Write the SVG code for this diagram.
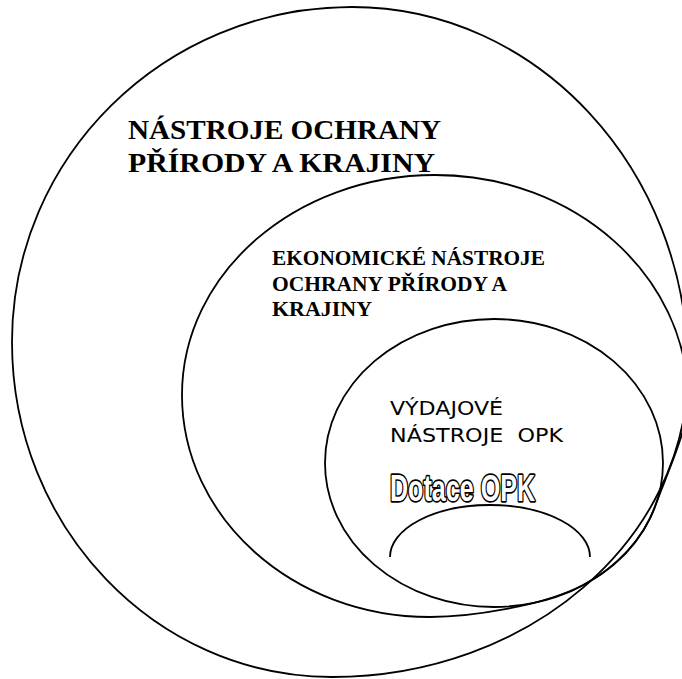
<svg xmlns="http://www.w3.org/2000/svg" width="682" height="679" viewBox="0 0 682 679">
  <style>
    .ring { fill: none; stroke: #000; stroke-width: 1.8; }
    .serif { font-family: "Liberation Serif", "Times New Roman", serif; font-weight: bold; fill: #000; }
    .sans { font-family: "DejaVu Sans", Verdana, sans-serif; fill: #000; white-space: pre; }
    .outline { font-family: "Liberation Sans", Arial, sans-serif; font-weight: bold; fill: #fff; stroke: #000; stroke-width: 3.4; stroke-linejoin: round; paint-order: stroke; }
  </style>
  <rect x="0" y="0" width="682" height="679" fill="#fff"/>

  <!-- outermost set: all nature and landscape protection tools -->
  <g id="nastroje-opk">
    <path class="ring" d="M 12 342 C 12 157 164.2 7 352 7 C 537.6 7 688 169.5 688 370 C 688 539.6 528.6 677 332 677 C 155.3 677 12 527 12 342 Z"/>
    <text class="serif" font-size="28" x="128" y="139" textLength="313" lengthAdjust="spacingAndGlyphs">NÁSTROJE OCHRANY</text>
    <text class="serif" font-size="28" x="128" y="172" textLength="307" lengthAdjust="spacingAndGlyphs">PŘÍRODY A KRAJINY</text>
  </g>

  <!-- economic tools -->
  <g id="ekonomicke-nastroje">
    <path class="ring" d="M 182 395 C 182 273.5 295.3 175 435 175 C 574.7 175 688 275.7 688 400 C 688 430 666.4 474.9 655.6 505 A 169 144 0 0 1 583 585 C 543.3 606.1 470 617 430 617 C 293 617 182 517.6 182 395 Z"/>
    <text class="serif" font-size="20" x="272" y="265" textLength="273" lengthAdjust="spacingAndGlyphs">EKONOMICKÉ NÁSTROJE</text>
    <text class="serif" font-size="20" x="272" y="291" textLength="235" lengthAdjust="spacingAndGlyphs">OCHRANY PŘÍRODY A</text>
    <text class="serif" font-size="20" x="272" y="316" textLength="100" lengthAdjust="spacingAndGlyphs">KRAJINY</text>
  </g>

  <!-- expenditure tools -->
  <g id="vydajove-nastroje">
    <ellipse class="ring" cx="494" cy="463" rx="169" ry="144"/>
    <text class="sans" font-size="19" x="390" y="415" textLength="113" lengthAdjust="spacingAndGlyphs">VÝDAJOVÉ</text>
    <text class="sans" font-size="19" x="390" y="442" textLength="173" lengthAdjust="spacingAndGlyphs">NÁSTROJE  OPK</text>
  </g>

  <!-- subsidies -->
  <g id="dotace-opk">
    <path class="ring" d="M 390 557 A 100 52 0 0 1 590 557"/>
    <text class="outline" font-size="37" x="390" y="501" textLength="145" lengthAdjust="spacingAndGlyphs">Dotace OPK</text>
  </g>
</svg>
